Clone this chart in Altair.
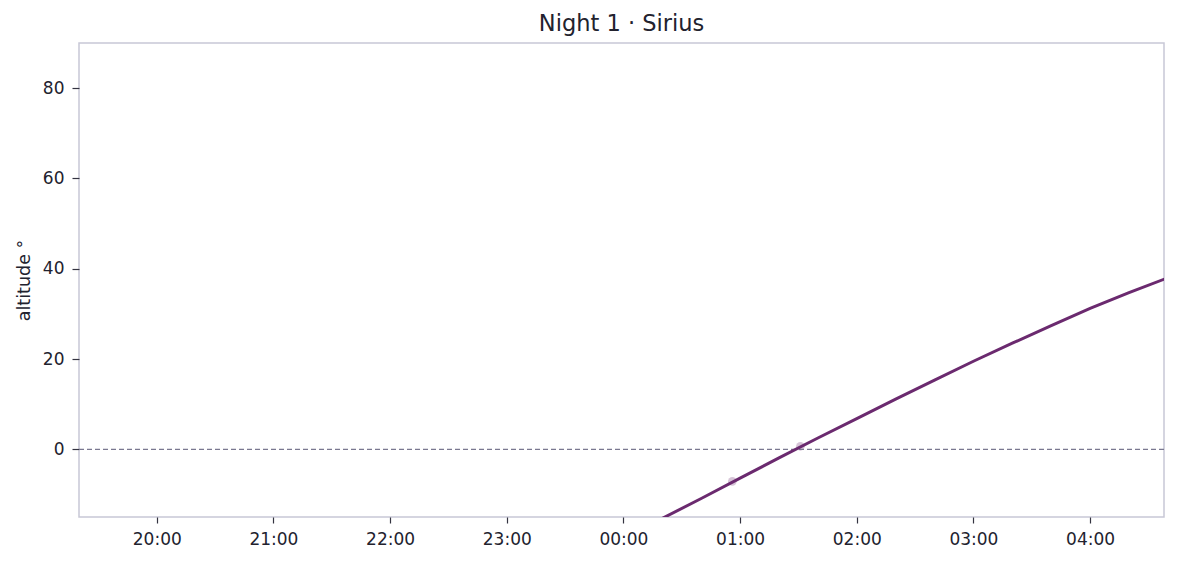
import altair as alt
import pandas as pd

# Altitude of Sirius (degrees)
times = ["2024-01-02T00:00:00", "2024-01-02T00:20:00", "2024-01-02T00:40:00", "2024-01-02T01:00:00",
         "2024-01-02T01:20:00", "2024-01-02T01:40:00", "2024-01-02T02:00:00", "2024-01-02T02:20:00",
         "2024-01-02T02:40:00", "2024-01-02T03:00:00", "2024-01-02T03:20:00", "2024-01-02T03:40:00",
         "2024-01-02T04:00:00", "2024-01-02T04:20:00", "2024-01-02T04:40:00"]
altitudes = [-20.0, -15.3, -10.9, -6.4, -1.9, 2.5, 6.8, 11.1, 15.3, 19.5, 23.5, 27.4,
             31.2, 34.7, 38.0]

obs_times = ["2024-01-02T00:56:00", "2024-01-02T01:31:00"]
obs_alts = [-7.1, 0.66]

horizon = [0]
y_domain = [-15, 90]
y_ticks = [0, 20, 40, 60, 80]
tick_hours = [(1, 20), (1, 21), (1, 22), (1, 23), (2, 0), (2, 1), (2, 2), (2, 3), (2, 4)]
title_text = "Night 1 · Sirius"

curve = pd.DataFrame({"time": pd.to_datetime(times), "alt": altitudes})
obs = pd.DataFrame({"time": pd.to_datetime(obs_times), "alt": obs_alts})
hz = pd.DataFrame({"alt": horizon})

x_domain = [alt.DateTime(year=2024, month=1, date=1, hours=19, minutes=20),
            alt.DateTime(year=2024, month=1, date=2, hours=4, minutes=38)]
x_values = [alt.DateTime(year=2024, month=1, date=d, hours=h) for d, h in tick_hours]
xscale = alt.Scale(domain=x_domain)
yscale = alt.Scale(domain=y_domain, nice=False, zero=False)

xaxis = alt.Axis(format="%H:%M", values=x_values, title=None,
                 grid=False, domain=False, tickSize=6, tickColor="#333340", tickWidth=1.2,
                 labelPadding=8, labelFontSize=17, labelColor="#22222e")
yaxis = alt.Axis(values=y_ticks, title="altitude °", grid=False, domain=False,
                 tickSize=7, tickColor="#333340", tickWidth=1.2, labelPadding=8,
                 labelFontSize=17, labelColor="#22222e", titleFontSize=17.5,
                 titleFontWeight="normal", titleColor="#22222e", titlePadding=9)

pts = alt.Chart(obs).mark_circle(color="#6b2a6f", opacity=0.28, size=75, clip=True).encode(
    x=alt.X("time:T", scale=xscale, axis=xaxis),
    y=alt.Y("alt:Q", scale=yscale, axis=yaxis),
)

rule = alt.Chart(hz).mark_rule(color="#7a7890", strokeDash=[5, 3], strokeWidth=1.3).encode(
    y=alt.Y("alt:Q")
)

line = alt.Chart(curve).mark_line(color="#6b2a6f", strokeWidth=3, clip=True).encode(
    x=alt.X("time:T"),
    y=alt.Y("alt:Q"),
)

chart = alt.layer(pts, rule, line).properties(
    width=1085, height=474,
    title=alt.TitleParams(title_text, fontSize=22.5, fontWeight="normal", color="#22222e",
                          offset=8),
    autosize=alt.AutoSizeParams(type="none"),
    padding={"left": 71, "top": 35, "right": 5, "bottom": 39},
).configure(font="DejaVu Sans").configure_view(stroke="#c8c8d6", strokeWidth=1.5)

chart.save("out.html", embed_options={"renderer": "svg", "actions": False})
